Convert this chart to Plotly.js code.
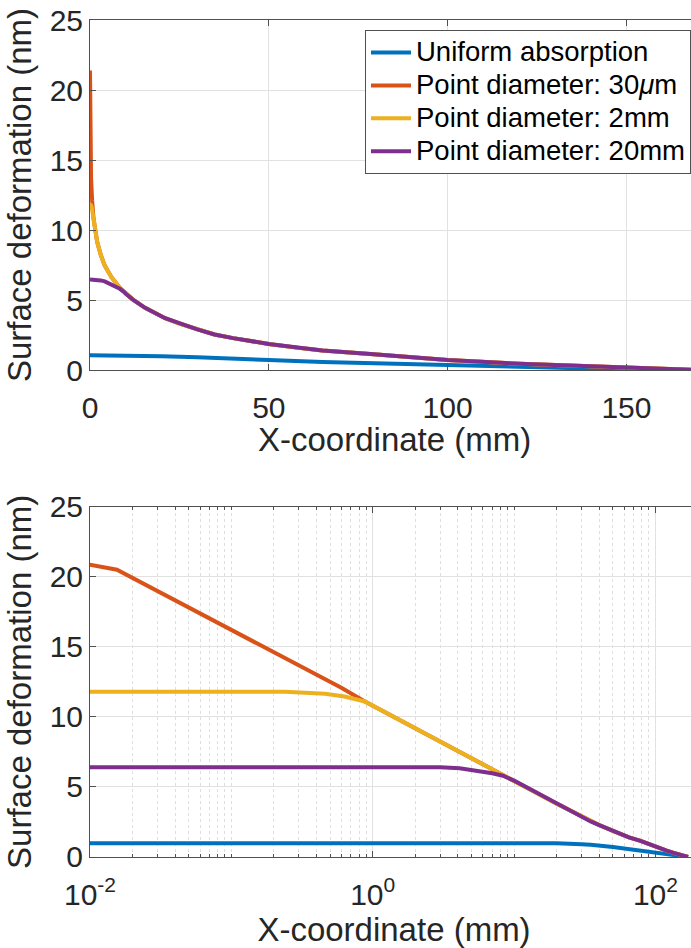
<!DOCTYPE html>
<html>
<head>
<meta charset="utf-8">
<script src="https://cdn.plot.ly/plotly-3.0.1.min.js"></script>
<style>
html, body { margin: 0; padding: 0; overflow: hidden; background: #fff; }
#chart { width: 698px; height: 948px; }
</style>
</head>
<body>
<div id="chart"></div>
<script>
// ---- data (x in mm, deformation in nm) ----
const seriesNames = ["Uniform absorption", "Point diameter: 30<i>\u03bc</i>m", "Point diameter: 2mm", "Point diameter: 20mm"];

const xUniform = [0, 0.01, 0.1, 1, 10, 15.4, 20, 30, 34.8, 50, 65, 78.4, 100, 120, 134.5, 150, 160, 170];
const yUniform = [1.05, 1.05, 1.05, 1.05, 1.04, 1.01, 0.98, 0.91, 0.88, 0.72, 0.58, 0.49, 0.31, 0.2, 0.14, 0.08, 0.04, 0];

const xPoint30um = [0, 0.01, 0.0155, 0.03, 0.1, 0.3, 0.6, 0.88, 1, 2, 3, 4.12, 6, 8.34, 10, 12, 15.4, 21, 25, 30, 34.8, 40, 50, 60, 65, 78.4, 100, 120, 134.5, 150, 160, 170];
const yPoint30um = [21.4, 20.86, 20.5, 18.98, 16.2, 13.68, 12.08, 11.1, 10.8, 9.16, 8.23, 7.46, 6.63, 5.87, 5.45, 5.03, 4.44, 3.7, 3.32, 2.9, 2.54, 2.28, 1.86, 1.53, 1.4, 1.15, 0.71, 0.45, 0.3, 0.16, 0.08, 0];

const xPoint2mm = [0, 0.01, 0.1, 0.24, 0.46, 0.63, 0.88, 1, 2, 3, 4.12, 6, 8.34, 10, 12, 15.4, 21, 25, 30, 34.8, 40, 50, 60, 65, 78.4, 100, 120, 134.5, 150, 160, 170];
const yPoint2mm = [11.82, 11.82, 11.82, 11.79, 11.65, 11.45, 11.1, 10.8, 9.16, 8.23, 7.46, 6.63, 5.87, 5.45, 5.03, 4.44, 3.7, 3.32, 2.9, 2.54, 2.28, 1.86, 1.53, 1.4, 1.15, 0.71, 0.45, 0.3, 0.16, 0.08, 0];

const xPoint20mm = [0, 0.01, 0.1, 1, 2, 3, 4.12, 5, 6, 7, 8.34, 9.5, 10, 12, 15.4, 21, 25, 30, 34.8, 40, 50, 60, 65, 78.4, 100, 120, 134.5, 150, 160, 170];
const yPoint20mm = [6.47, 6.47, 6.47, 6.46, 6.44, 6.4, 6.33, 6.22, 6.1, 5.98, 5.8, 5.58, 5.45, 5.03, 4.44, 3.7, 3.32, 2.9, 2.54, 2.28, 1.86, 1.53, 1.4, 1.15, 0.71, 0.45, 0.3, 0.16, 0.08, 0];

const xTicksLinear = [0, 50, 100, 150];
const xTicksLog = [0.01, 1, 100];
const xTickLabelsLog = ["10<sup>-2</sup>", "10<sup>0</sup>", "10<sup>2</sup>"];
const yTicks = [0, 5, 10, 15, 20, 25];
const xTitle = "X-coordinate (mm)";
const yTitle = "Surface deformation (nm)";

// ---- styling ----
const colors = ["#0072BD", "#D95319", "#EDB120", "#7E2F8E"];
const xs = [xUniform, xPoint30um, xPoint2mm, xPoint20mm];
const ys = [yUniform, yPoint30um, yPoint2mm, yPoint20mm];
const FONT = "Liberation Sans, Arial, Helvetica, sans-serif";
const textColor = "#262626";

const traces = [];
for (let i = 0; i < 4; i++) {
  traces.push({
    x: xs[i], y: ys[i], type: "scatter", mode: "lines",
    name: '<span style="font-size:27.5px">' + seriesNames[i] + '</span>',
    xaxis: "x", yaxis: "y",
    line: { color: colors[i], width: 4 }, showlegend: true
  });
}
for (let i = 0; i < 4; i++) {
  traces.push({
    x: xs[i], y: ys[i], type: "scatter", mode: "lines",
    name: seriesNames[i], xaxis: "x2", yaxis: "y2",
    line: { color: colors[i], width: 4 }, showlegend: false
  });
}

const minorVals = [];
for (let e = -2; e <= 2; e++) {
  for (let m = 1; m <= 9; m++) {
    const v = m * Math.pow(10, e);
    if (!(m === 1 && (e === -2 || e === 0 || e === 2))) minorVals.push(v);
  }
}

const gridColor = "rgb(225,225,225)";
const lineColor = "rgb(80,80,80)";
const commonAxis = {
  showline: true, linecolor: lineColor, linewidth: 1, mirror: "ticks",
  ticks: "inside", ticklen: 6, tickcolor: lineColor, tickwidth: 1,
  showgrid: true, gridcolor: gridColor, gridwidth: 1, zeroline: false,
  tickfont: { family: FONT, size: 30, color: textColor }
};

const layout = {
  width: 698, height: 948,
  margin: { l: 90, r: 0, t: 20, b: 91, pad: 0 },
  paper_bgcolor: "#fff", plot_bgcolor: "#fff",
  font: { family: FONT, color: textColor },
  showlegend: true,
  legend: {
    x: 0.4523, xanchor: "left", y: 0.988, yanchor: "top",
    bgcolor: "#fff", bordercolor: "rgb(80,80,80)", borderwidth: 1,
    font: { family: FONT, size: 23, color: "#000" },
    itemwidth: 40, tracegroupgap: 0
  },
  annotations: [{
    text: xTitle, xref: "paper", yref: "paper", x: 0.5, y: 0.4994,
    xanchor: "center", yanchor: "middle", showarrow: false, borderpad: 0,
    font: { family: FONT, size: 33, color: textColor }
  }],
  xaxis: Object.assign({}, commonAxis, {
    domain: [0, 1], anchor: "y", range: [0, 170],
    tickmode: "array", tickvals: xTicksLinear,
    ticklabelstandoff: 11
  }),
  yaxis: Object.assign({}, commonAxis, {
    domain: [0.5818, 1], anchor: "x", range: [0, 25],
    tickmode: "array", tickvals: yTicks,
    title: { text: yTitle, font: { family: FONT, size: 33, color: textColor }, standoff: 8 }
  }),
  xaxis2: Object.assign({}, commonAxis, {
    domain: [0, 1], anchor: "y2", type: "log", range: [-2, Math.log10(200)],
    tickmode: "array", tickvals: xTicksLog, ticktext: xTickLabelsLog,
    ticklabelstandoff: 11,
    minor: { tickmode: "array", tickvals: minorVals, ticks: "inside", ticklen: 3, tickcolor: lineColor,
             showgrid: true, gridcolor: "rgb(222,222,222)", griddash: "dot", gridwidth: 1 },
    title: { text: xTitle, font: { family: FONT, size: 33, color: textColor }, standoff: 11 }
  }),
  yaxis2: Object.assign({}, commonAxis, {
    domain: [0, 0.4185], anchor: "x2", range: [0, 25],
    tickmode: "array", tickvals: yTicks,
    title: { text: yTitle, font: { family: FONT, size: 33, color: textColor }, standoff: 8 }
  })
};

Plotly.newPlot("chart", traces, layout, { displayModeBar: false, staticPlot: true });
</script>
</body>
</html>
